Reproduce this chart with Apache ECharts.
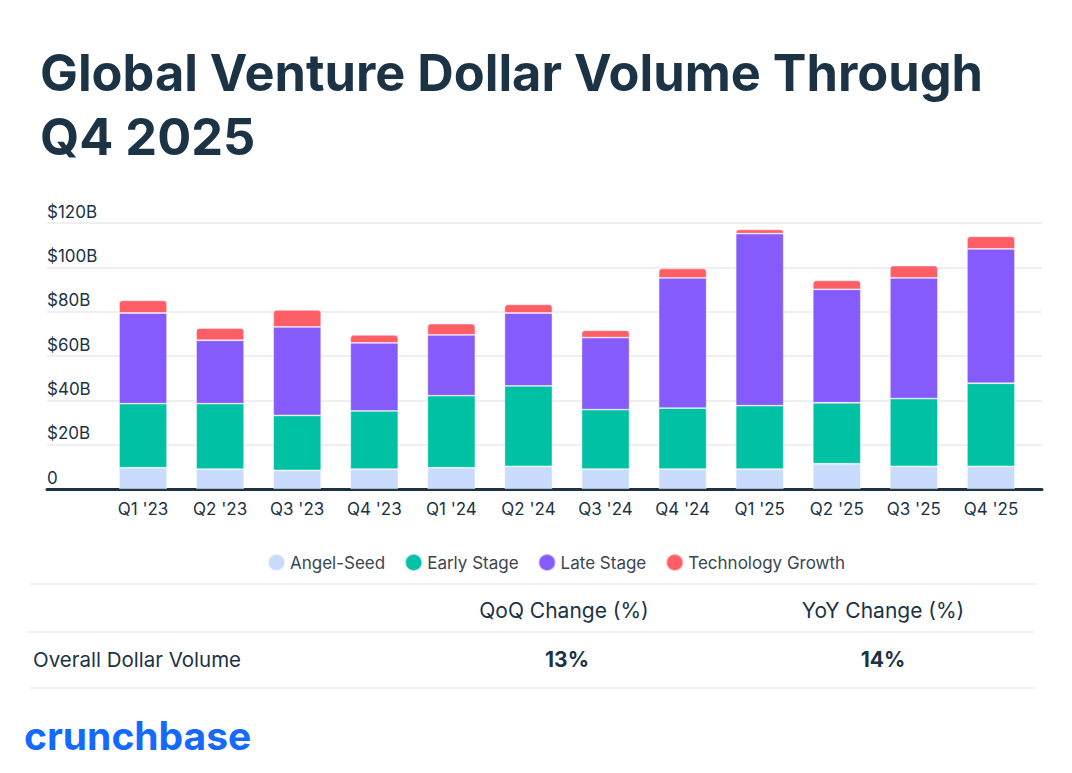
<!DOCTYPE html>
<html>
<head>
<meta charset="utf-8">
<script src="https://cdn.jsdelivr.net/npm/echarts@6.0.0/dist/echarts.min.js"></script>
<style>
  html, body { margin: 0; padding: 0; background: #fff; }
  #chart { width: 1072px; height: 773px; }
</style>
</head>
<body>
<div id="chart"></div>
<script>
// Quarters shown on the x axis
const quarters = ["Q1 '23", "Q2 '23", "Q3 '23", "Q4 '23", "Q1 '24", "Q2 '24",
                  "Q3 '24", "Q4 '24", "Q1 '25", "Q2 '25", "Q3 '25", "Q4 '25"];

// Funding by stage, $B
const angelSeed = [9.6, 9.0, 8.4, 9.0, 9.6, 10.2, 9.0, 9.0, 9.0, 11.4, 10.2, 10.2];
const earlyStage = [28.9, 29.5, 24.8, 26.2, 32.5, 36.3, 26.8, 27.5, 28.6, 27.5, 30.6, 37.5];
const lateStage = [40.9, 28.6, 39.9, 30.7, 27.4, 32.9, 32.5, 58.7, 77.6, 51.2, 54.4, 60.6];
const techGrowth = [5.7, 5.5, 7.7, 3.6, 5.1, 3.9, 3.3, 4.3, 1.9, 4.0, 5.6, 5.7];

const yTicks = [0, 20, 40, 60, 80, 100, 120];

// Summary table under the chart
const tableHeaders = ['QoQ Change (%)', 'YoY Change (%)'];
const tableRowLabel = 'Overall Dollar Volume';
const tableRowValues = ['13%', '14%'];

const FONT = 'Inter, "Noto Sans", sans-serif';
const NAVY = '#1b3345';

const chart = echarts.init(document.getElementById('chart'), null, { renderer: 'svg' });

function stageSeries(name, data, color, radius) {
  return {
    name,
    type: 'bar',
    stack: 'total',
    xAxisIndex: 1,
    yAxisIndex: 1,
    barWidth: 48,
    itemStyle: {
      color,
      borderColor: 'rgba(255,255,255,0.55)',
      borderWidth: 0.8,
      borderRadius: radius || 0
    },
    emphasis: { disabled: true },
    data
  };
}

const option = {
  animation: false,
  title: {
    text: 'Global Venture Dollar Volume Through\nQ4 2025',
    left: 35,
    top: 35,
    textStyle: {
      fontFamily: FONT,
      fontWeight: 700,
      fontSize: 50.5,
      lineHeight: 64,
      color: NAVY
    }
  },
  legend: {
    left: 262,
    top: 548,
    icon: 'circle',
    itemWidth: 17,
    itemHeight: 17,
    itemGap: 19,
    textStyle: { fontFamily: FONT, fontSize: 17, color: '#3a4650' },
    data: ['Angel-Seed', 'Early Stage', 'Late Stage', 'Technology Growth']
  },
  grid: [
    { left: 47, right: 30, top: 223, bottom: 284 },
    { left: 104.5, right: 42.5, top: 223, bottom: 284 }
  ],
  xAxis: [
    {
      type: 'category',
      gridIndex: 0,
      data: [''],
      axisLine: { show: true, lineStyle: { color: NAVY, width: 3 } },
      axisTick: { show: false },
      axisLabel: { show: false }
    },
    {
      type: 'category',
      gridIndex: 1,
      data: quarters,
      axisLine: { show: false },
      axisTick: { show: false },
      axisLabel: { margin: 11, fontFamily: FONT, fontSize: 17, color: NAVY }
    }
  ],
  yAxis: [
    {
      type: 'value',
      gridIndex: 0,
      min: yTicks[0],
      max: yTicks[yTicks.length - 1],
      interval: 20,
      axisLine: { show: false },
      axisTick: { show: false },
      splitLine: { lineStyle: { color: '#e9eaee', width: 1.5 } },
      axisLabel: {
        inside: true,
        margin: 0,
        verticalAlign: 'bottom',
        padding: [0, 0, 3, 0],
        fontFamily: FONT,
        fontSize: 17,
        color: NAVY,
        formatter: v => (v === 0 ? '0' : '$' + v + 'B')
      }
    },
    {
      type: 'value',
      gridIndex: 1,
      min: yTicks[0],
      max: yTicks[yTicks.length - 1],
      interval: 20,
      show: false,
      splitLine: { show: false }
    }
  ],
  series: [
    stageSeries('Angel-Seed', angelSeed, '#c9dcfd'),
    stageSeries('Early Stage', earlyStage, '#00c1a4'),
    stageSeries('Late Stage', lateStage, '#855bfb'),
    stageSeries('Technology Growth', techGrowth, '#fe5f67', [3, 3, 0, 0])
  ],
  graphic: [
    // table rules
    { type: 'line', shape: { x1: 30, y1: 584, x2: 1037, y2: 584 }, style: { stroke: '#ececee', lineWidth: 1.5 } },
    { type: 'line', shape: { x1: 28, y1: 632, x2: 1034, y2: 632 }, style: { stroke: '#ececee', lineWidth: 1.5 } },
    { type: 'line', shape: { x1: 30, y1: 688, x2: 1035, y2: 688 }, style: { stroke: '#ececee', lineWidth: 1.5 } },
    // header
    { type: 'text', x: 564, y: 610, style: { text: tableHeaders[0], font: '400 21px ' + FONT, fill: NAVY, align: 'center', verticalAlign: 'middle' } },
    { type: 'text', x: 883, y: 610, style: { text: tableHeaders[1], font: '400 21px ' + FONT, fill: NAVY, align: 'center', verticalAlign: 'middle' } },
    // row
    { type: 'text', x: 33, y: 659, style: { text: tableRowLabel, font: '400 20.5px ' + FONT, fill: NAVY, align: 'left', verticalAlign: 'middle' } },
    { type: 'text', x: 567, y: 659, style: { text: tableRowValues[0], font: '700 21px ' + FONT, fill: NAVY, align: 'center', verticalAlign: 'middle' } },
    { type: 'text', x: 883, y: 659, style: { text: tableRowValues[1], font: '700 21px ' + FONT, fill: NAVY, align: 'center', verticalAlign: 'middle' } },
    // brand
    { type: 'text', x: 24, y: 735, style: { text: 'crunchbase', font: '700 39px ' + FONT, fill: '#146aff', align: 'left', verticalAlign: 'middle' } }
  ]
};

chart.setOption(option);
window.addEventListener('resize', () => chart.resize());
</script>
</body>
</html>
